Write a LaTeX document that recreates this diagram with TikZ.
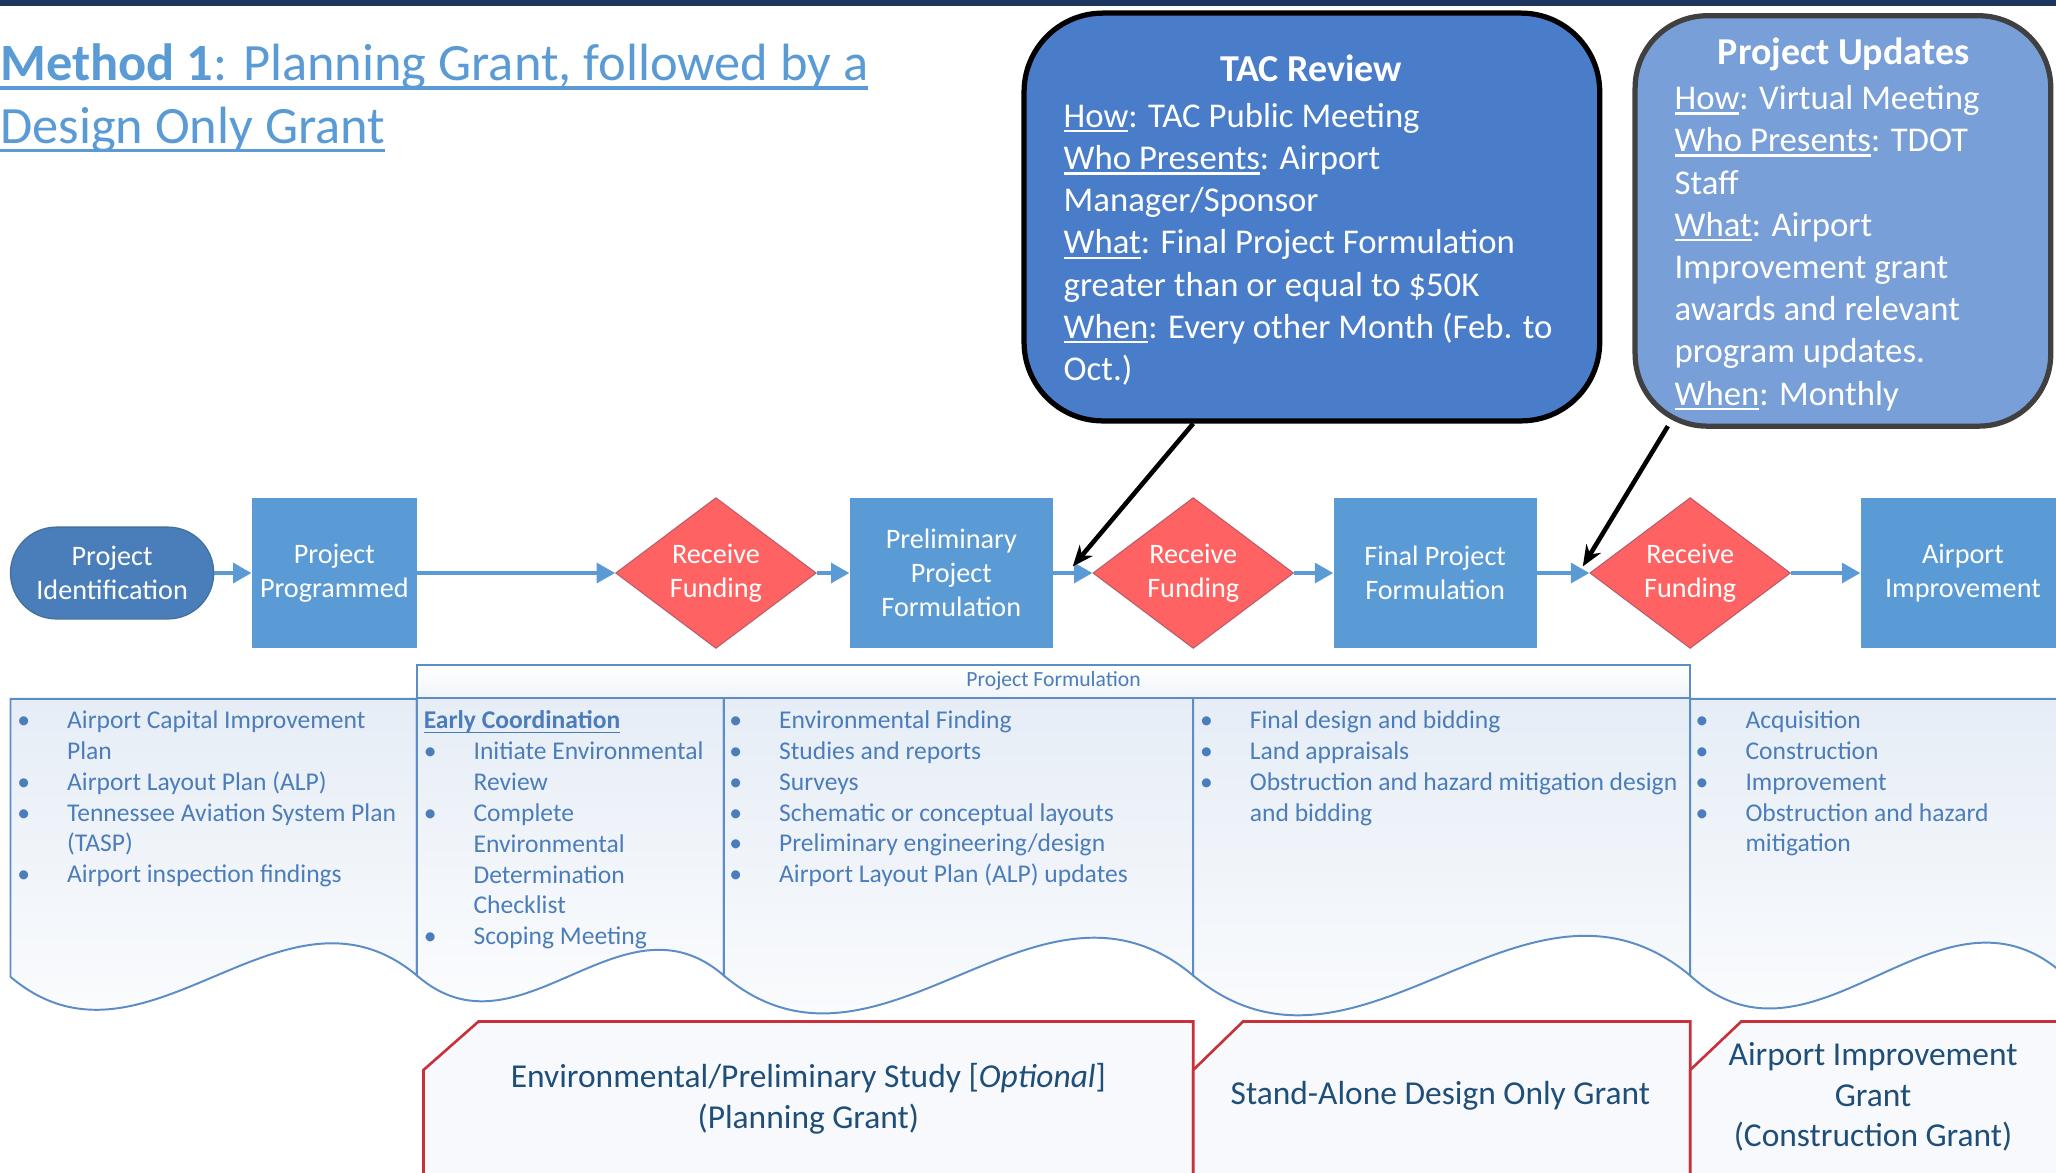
\documentclass[tikz,border=0pt]{standalone}
\usepackage{fontspec}
\setmainfont{Carlito}
\usepackage{tikz}
\usetikzlibrary{arrows.meta,shapes.geometric,positioning}

\definecolor{navybar}{HTML}{1C365E}
\definecolor{titleblue}{HTML}{5B9BD5}
\definecolor{tacblue}{HTML}{4A7DC9}
\definecolor{updblue}{HTML}{789FD7}
\definecolor{updedge}{HTML}{404040}
\definecolor{pillblue}{HTML}{4A7EBB}
\definecolor{pilledge}{HTML}{41719C}
\definecolor{boxblue}{HTML}{5B9BD5}
\definecolor{fundred}{HTML}{FF6262}
\definecolor{fundedge}{HTML}{B85C6A}
\definecolor{docline}{HTML}{5C8DC6}
\definecolor{docfill}{HTML}{E6EDF6}
\definecolor{doctext}{HTML}{4B7DBB}
\definecolor{granted}{HTML}{C8303A}
\definecolor{grantfill}{HTML}{F7F9FC}
\definecolor{granttext}{HTML}{1F4E79}

\newsavebox{\ulbox}
\newcommand{\ulset}[3]{{\sbox{\ulbox}{#3}\rlap{\usebox{\ulbox}}\rule[-#1]{\wd\ulbox}{#2}}}
\newcommand{\titleul}[1]{\ulset{7pt}{3pt}{#1}}
\newcommand{\keyul}[1]{\ulset{3.8pt}{1.8pt}{#1}}
\newcommand{\headul}[1]{\ulset{3.3pt}{1.3pt}{#1}}
\newcommand{\bul}{\makebox[38pt][l]{\textbullet}}
\newcommand{\ind}{\hspace*{38pt}}

\begin{document}
\begin{tikzpicture}[x=1pt,y=-1pt]
\tikzstyle{procbox} = [rectangle, fill=boxblue, text=white, minimum height=115pt, inner sep=0pt, align=center, font=\fontsize{21.5}{26}\selectfont];%
\tikzstyle{startbox} = [procbox, fill=pillblue, draw=pilledge, line width=1pt, rounded corners=35pt, minimum height=70pt];%
\tikzstyle{fundbox} = [diamond, fill=fundred, draw=fundedge, line width=0.8pt, text=white, inner sep=0pt, aspect=1.33, minimum width=153pt, minimum height=115pt, align=center, font=\fontsize{21.5}{26}\selectfont];%
\tikzstyle{flowline} = [draw=boxblue, line width=3pt, -{Triangle[length=14pt,width=15pt]}];%
\tikzstyle{callout} = [rectangle, draw=black, line width=4pt, rounded corners=60pt, inner sep=0pt];%
\tikzstyle{callhead} = [text=white, font=\fontsize{29}{35}\selectfont\bfseries, inner sep=0pt, anchor=base];%
\tikzstyle{calltext} = [text=white, font=\fontsize{26.5}{32.2}\selectfont, align=left, inner sep=0pt, anchor=north west];%
\tikzstyle{pointer} = [draw=black, line width=3.5pt, -{Stealth[length=16pt,width=13pt]}];%
\tikzstyle{docshape} = [draw=docline, line width=1.5pt, top color=docfill, bottom color=white];%
\tikzstyle{doclist} = [text=doctext, font=\fontsize{19.5}{23.5}\selectfont, align=left, inner sep=0pt, anchor=north west];%
\tikzstyle{grantshape} = [draw=granted, line width=2pt, fill=grantfill];%
\tikzstyle{granttxt} = [text=granttext, font=\fontsize{25.5}{31}\selectfont, align=center, inner sep=0pt];%

\path[use as bounding box, clip] (0,0) rectangle (1568,894);
\fill[navybar] (0,0) rectangle (1568,4.5);

\node at (0,33) [anchor=north west, inner sep=0pt, align=left, text=titleblue, font=\fontsize{40}{48}\selectfont] (heading) {\titleul{\textbf{Method 1}: Planning Grant, followed by a}\\\titleul{Design Only Grant}};

% wavy lists
\path[docshape] (8,533) -- (318,533) -- (318,744) .. controls (215,658) and (111,832) .. (8,745) -- cycle;
\path[docshape] (318,532) -- (552,532) -- (552,744) .. controls (474,676) and (396,812) .. (318,744) -- cycle;
\path[docshape] (552,532) -- (910,532) -- (910,744) .. controls (791,644) and (671,844) .. (552,744) -- cycle;
\path[docshape] (910,532) -- (1289,532) -- (1289,744) .. controls (1163,639) and (1036,849) .. (910,744) -- cycle;
\path[docshape] (1289,533) -- (1575,533) -- (1575,744) .. controls (1480,657) and (1384,831) .. (1289,744) -- cycle;

\node at (803.5,519.5) [rectangle, draw=docline, line width=1.5pt, top color=white, bottom color=docfill!60, minimum width=971pt, minimum height=25pt, inner sep=0pt, text=doctext, font=\fontsize{16.5}{20}\selectfont] (formband) {Project Formulation};

\node at (13,542) [doclist] (list1) {\bul Airport Capital Improvement\\\ind Plan\\\bul Airport Layout Plan (ALP)\\\bul Tennessee Aviation System Plan\\\ind (TASP)\\\bul Airport inspection findings};
\node at (323,542) [doclist] (list2) {\headul{\textbf{Early Coordination}}\\\bul Initiate Environmental\\\ind Review\\\bul Complete\\\ind Environmental\\\ind Determination\\\ind Checklist\\\bul Scoping Meeting};
\node at (556,542) [doclist] (list3) {\bul Environmental Finding\\\bul Studies and reports\\\bul Surveys\\\bul Schematic or conceptual layouts\\\bul Preliminary engineering/design\\\bul Airport Layout Plan (ALP) updates};
\node at (915,542) [doclist] (list4) {\bul Final design and bidding\\\bul Land appraisals\\\bul Obstruction and hazard mitigation design\\\ind and bidding};
\node at (1293,542) [doclist] (list5) {\bul Acquisition\\\bul Construction\\\bul Improvement\\\bul Obstruction and hazard\\\ind mitigation};

% grant boxes
\path[grantshape] (323,816) -- (365,779) -- (910,779) -- (910,900) -- (323,900) -- cycle;
\path[grantshape] (910,816) -- (948,779) -- (1289,779) -- (1289,900) -- (910,900) -- cycle;
\path[grantshape] (1289,816) -- (1328,779) -- (1580,779) -- (1580,900) -- (1289,900) -- cycle;
\node at (616.5,838) [granttxt] (plangrant) {Environmental/Preliminary Study [\textit{Optional}]\\(Planning Grant)};
\node at (1098.5,835.5) [granttxt] (designgrant) {Stand-Alone Design Only Grant};
\node at (1428.5,836.5) [granttxt] (aipgrant) {Airport Improvement\\Grant\\(Construction Grant)};

% process flow
\node at (85.5,437) [startbox, minimum width=155pt] (ident) {Project\\Identification};
\node at (255,437) [procbox, minimum width=126pt] (programmed) {Project\\Programmed};
\node at (546,437) [fundbox] (fund1) {Receive\\Funding};
\node at (725.5,437) [procbox, minimum width=155pt] (prelim) {Preliminary\\Project\\Formulation};
\node at (910,437) [fundbox] (fund2) {Receive\\Funding};
\node at (1094.5,437) [procbox, minimum width=155pt] (final) {Final Project\\Formulation};
\node at (1289,437) [fundbox] (fund3) {Receive\\Funding};
\node at (1497,437) [procbox, minimum width=156pt] (improve) {Airport\\Improvement};

\path (ident) edge[flowline] (programmed) ;
\path (programmed) edge[flowline] (fund1) ;
\path (fund1) edge[flowline] (prelim) ;
\path (prelim) edge[flowline] (fund2) ;
\path (fund2) edge[flowline] (final) ;
\path (final) edge[flowline] (fund3) ;
\path (fund3) edge[flowline] (improve) ;

% call-outs
\node at (1000.5,165.5) [callout, fill=tacblue, minimum width=439pt, minimum height=311pt] (tac) {};
\node at (1000,62) [callhead] (tachead) {TAC Review};
\node at (811,78.5) [calltext] (tacbody) {\keyul{How}: TAC Public Meeting\\\keyul{Who Presents}: Airport\\Manager/Sponsor\\\keyul{What}: Final Project Formulation\\greater than or equal to \$50K\\\keyul{When}: Every other Month (Feb. to\\Oct.)};

\node at (1405.5,168.5) [callout, fill=updblue, draw=updedge, rounded corners=55pt, minimum width=317pt, minimum height=313pt] (upd) {};
\node at (1406,49.5) [callhead] (updhead) {Project Updates};
\node at (1277,65) [calltext] (updbody) {\keyul{How}: Virtual Meeting\\\keyul{Who Presents}: TDOT\\Staff\\\keyul{What}: Airport\\Improvement grant\\awards and relevant\\program updates.\\\keyul{When}: Monthly};

\coordinate (tacfoot) at ([xshift=-90.5pt]tac.south);
\coordinate (tacaim) at ([xshift=-15pt,yshift=5pt]fund2.west);
\coordinate (updfoot) at ([xshift=-133.5pt,yshift=2pt]upd.south);
\coordinate (updaim) at ([xshift=-5pt,yshift=5pt]fund3.west);
\path (tacfoot) edge[pointer] (tacaim) ;
\path (updfoot) edge[pointer] (updaim) ;

\end{tikzpicture}
\end{document}
